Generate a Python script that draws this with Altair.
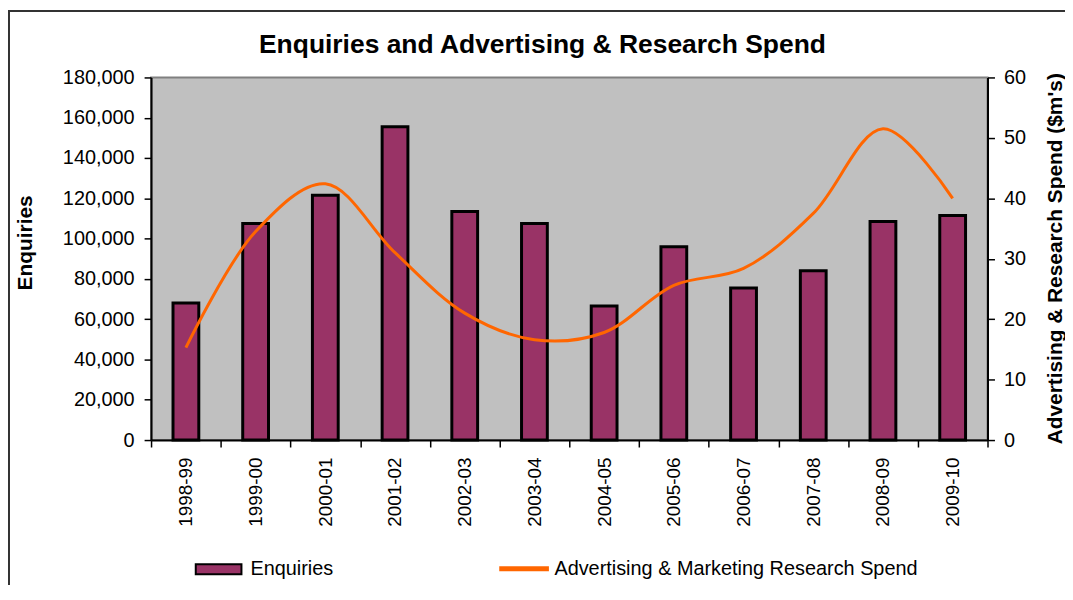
import altair as alt
import pandas as pd

years = ["1998-99", "1999-00", "2000-01", "2001-02", "2002-03", "2003-04",
         "2004-05", "2005-06", "2006-07", "2007-08", "2008-09", "2009-10"]
enquiries = [68000, 107500, 121500, 155500, 113500, 107500,
             66500, 96000, 75500, 84000, 108500, 111500]
spend = [15.3, 34.5, 42.4, 31.0, 21.0, 16.6, 17.8, 25.6, 28.4, 37.5, 51.5, 40.0]
left_ticks = [0, 20000, 40000, 60000, 80000, 100000, 120000, 140000, 160000, 180000]
right_ticks = [0, 10, 20, 30, 40, 50, 60]

chart_title = "Enquiries and Advertising & Research Spend"
bar_name = "Enquiries"
line_name = "Advertising & Marketing Research Spend"

df = pd.DataFrame({"year": years, "enquiries": enquiries, "spend": spend,
                   "s1": bar_name, "s2": line_name})

FONT = "Liberation Sans"
W, H = 842, 365

x_enc = alt.X(
    "year:N", sort=years, title=None,
    scale=alt.Scale(paddingInner=0, paddingOuter=0),
    axis=alt.Axis(labelAngle=270, labelFontSize=19, labelFont=FONT, labelColor="black",
                  tickBand="extent", tickSize=7, tickColor="black", tickWidth=1.5,
                  domainColor="black", domainWidth=2, labelPadding=10, grid=False),
)

bars = alt.Chart(df).mark_bar(
    stroke="black", strokeWidth=3, width=alt.RelativeBandSize(0.37)
).encode(
    x=x_enc,
    y=alt.Y("enquiries:Q", scale=alt.Scale(domain=[0, 180000], nice=False),
            axis=alt.Axis(orient="left", values=left_ticks, format=",.0f", title="Enquiries",
                          labelFontSize=20, labelFont=FONT, labelColor="black",
                          labelPadding=10, tickSize=7, tickColor="black", tickWidth=1.5,
                          domainColor="black", domainWidth=2, grid=False,
                          titleFont=FONT, titleFontSize=21, titleFontWeight="bold",
                          titleColor="black", titleAngle=270, titleX=-126, titleY=166,
                          titleBaseline="middle", titleAlign="center")),
    fill=alt.Fill("s1:N", scale=alt.Scale(domain=[bar_name], range=["#993366"]),
                  legend=alt.Legend(title=None, orient="none", legendX=44, legendY=471,
                                    symbolType="M-1,-0.22H1V0.22H-1Z", symbolSize=2116,
                                    symbolStrokeColor="black", symbolStrokeWidth=2,
                                    labelFontSize=20, labelFont=FONT, labelColor="black",
                                    labelOffset=8, labelLimit=600, padding=0)),
)

line = alt.Chart(df).mark_line(
    strokeWidth=3, interpolate="catmull-rom"
).encode(
    x=x_enc,
    y=alt.Y("spend:Q", scale=alt.Scale(domain=[0, 60], nice=False),
            axis=alt.Axis(orient="right", values=right_ticks, format="d",
                          title="Advertising & Research Spend ($m's)",
                          labelFontSize=20, labelFont=FONT, labelColor="black",
                          labelPadding=9, tickSize=7, tickColor="black", tickWidth=1.5,
                          domainColor="black", domainWidth=2, grid=False,
                          titleFont=FONT, titleFontSize=21, titleFontWeight="bold",
                          titleColor="black", titleAngle=270, titleX=68, titleY=182,
                          titleBaseline="middle", titleAlign="center", titleLimit=1000)),
    stroke=alt.Stroke("s2:N", scale=alt.Scale(domain=[line_name], range=["#FF6600"]),
                      legend=alt.Legend(title=None, orient="none", legendX=348, legendY=467,
                                        symbolType="stroke", symbolSize=2500,
                                        symbolStrokeWidth=5,
                                        labelFontSize=20, labelFont=FONT, labelColor="black",
                                        labelOffset=3, labelLimit=600, padding=0)),
)

frame = alt.Chart(pd.DataFrame({"k": [0]})).mark_rect(
    fill="transparent", stroke="#333333", strokeWidth=2
).encode(
    x=alt.value(-143), x2=alt.value(W + 300), y=alt.value(-67), y2=alt.value(H + 300)
)

title = alt.Chart(pd.DataFrame({"t": [chart_title]})).mark_text(
    font=FONT, fontSize=26.6, fontWeight="bold", color="black",
    align="center", baseline="alphabetic"
).encode(text="t:N", x=alt.value(394), y=alt.value(-24.5))

chart = alt.layer(frame, title, bars, line).resolve_scale(
    y="independent", fill="independent", stroke="independent"
).properties(
    width=W, height=H,
    autosize=alt.AutoSizeParams(type="none"),
    padding={"left": 144, "top": 68, "right": 78, "bottom": 144},
    background="white",
).configure_view(fill="#C0C0C0", stroke="#808080", strokeWidth=2)

chart.save("out.html", embed_options={"renderer": "svg", "actions": False})
